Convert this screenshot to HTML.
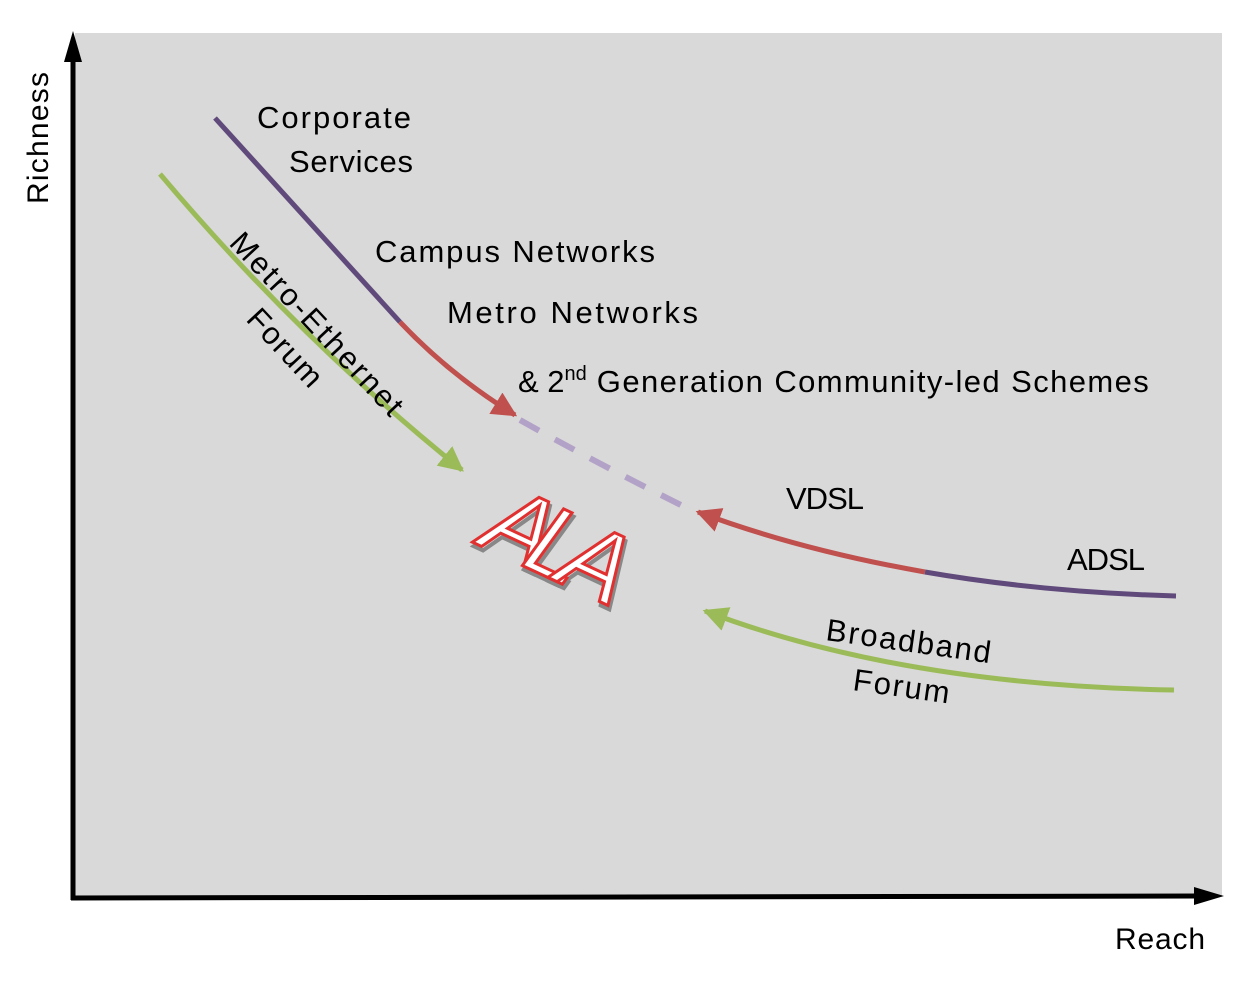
<!DOCTYPE html>
<html><head><meta charset="utf-8"><style>
html,body{margin:0;padding:0;background:#fff;}
svg{display:block;}
text{font-family:"Liberation Sans",sans-serif;fill:#000;}
</style></head><body>
<svg width="1260" height="983" viewBox="0 0 1260 983" xmlns="http://www.w3.org/2000/svg">
<defs>
<marker id="ar" viewBox="0 0 10 10" refX="9" refY="5" markerWidth="5" markerHeight="5" orient="auto" markerUnits="strokeWidth"><path d="M0,0 L10,5 L0,10 z" fill="#c0504d"/></marker>
<marker id="ag" viewBox="0 0 10 10" refX="9" refY="5" markerWidth="5" markerHeight="5" orient="auto" markerUnits="strokeWidth"><path d="M0,0 L10,5 L0,10 z" fill="#9bbb59"/></marker>
</defs>
<rect x="75" y="33" width="1147" height="864" fill="#d9d9d9"/>
<line x1="73" y1="900" x2="73" y2="55" stroke="#000" stroke-width="5"/>
<path d="M73,31 L64,62 L82,62 z" fill="#000"/>
<line x1="71" y1="898" x2="1200" y2="896" stroke="#000" stroke-width="5"/>
<path d="M1224,896 L1194,887 L1194,905 z" fill="#000"/>
<text x="0" y="0" font-size="30" textLength="132" transform="translate(48,204) rotate(-90)">Richness</text>
<text x="1115" y="949" font-size="30" textLength="90">Reach</text>
<path d="M215,118 L400,322" stroke="#604a7b" stroke-width="5" fill="none"/>
<path d="M400,322 Q450,375 515,415" stroke="#c0504d" stroke-width="5" fill="none" marker-end="url(#ar)"/>
<path d="M520,420 Q600,465 695,512" stroke="#b3a2c7" stroke-width="6" fill="none" stroke-dasharray="22,18"/>
<path d="M160,174 Q300,340 462,470" stroke="#9bbb59" stroke-width="5" fill="none" marker-end="url(#ag)"/>
<path d="M925,572 Q800,550 698,512" stroke="#c0504d" stroke-width="5" fill="none" marker-end="url(#ar)"/>
<path d="M1176,596 Q1040,592 925,572" stroke="#604a7b" stroke-width="5" fill="none"/>
<path d="M1174,690 Q900,685 705,611" stroke="#9bbb59" stroke-width="5" fill="none" marker-end="url(#ag)"/>
<text x="257" y="128" font-size="31" textLength="154">Corporate</text>
<text x="289" y="172" font-size="31" textLength="124">Services</text>
<text x="375" y="262" font-size="31" textLength="280">Campus Networks</text>
<text x="447" y="323" font-size="31" textLength="251">Metro Networks</text>
<text x="518" y="392" font-size="31">&amp; 2<tspan font-size="20" dy="-12">nd</tspan><tspan dy="12" textLength="562"> Generation Community-led Schemes</tspan></text>
<text x="786" y="509" font-size="31" textLength="78">VDSL</text>
<text x="1067" y="570" font-size="31" textLength="78">ADSL</text>
<text font-size="31" textLength="238" transform="translate(228,244) rotate(47)">Metro-Ethernet</text>
<text font-size="31" textLength="95" transform="translate(245,320) rotate(47)">Forum</text>
<text font-size="31" textLength="166" transform="translate(825,640) rotate(8)">Broadband</text>
<text font-size="31" textLength="97" transform="translate(852,690) rotate(8)">Forum</text>
<g transform="translate(556,552) rotate(25)">
<text x="3" y="3" text-anchor="middle" font-size="100" font-style="italic" stroke="#888" stroke-width="4" dominant-baseline="middle" textLength="150" style="fill:none">ALA</text>
<text x="0" y="0" text-anchor="middle" font-size="100" font-style="italic" stroke="#e03030" stroke-width="3" dominant-baseline="middle" textLength="150" style="fill:#fff">ALA</text>
</g>
</svg>
</body></html>
